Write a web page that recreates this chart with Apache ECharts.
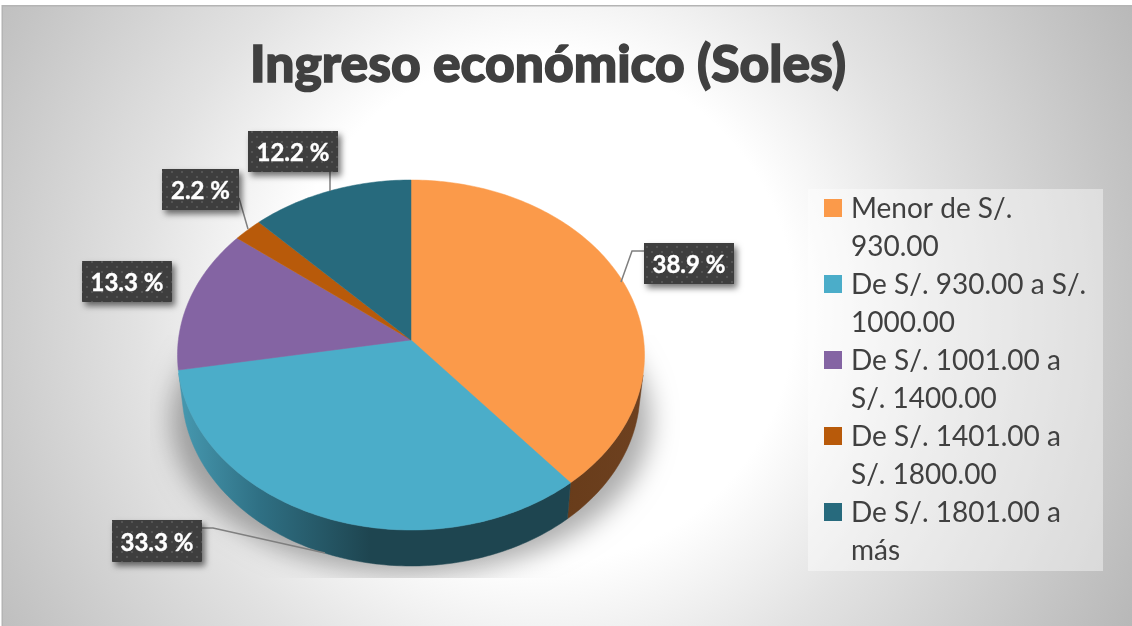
<!DOCTYPE html>
<html><head><meta charset="utf-8">
<style>html,body{margin:0;padding:0;background:#fff}#c{width:1132px;height:626px}</style>
<script src="https://cdn.jsdelivr.net/npm/echarts@6/dist/echarts.min.js"></script>
</head><body><div id="c"></div>
<script>
const titleText = 'Ingreso económico (Soles)';
const categories = ['Menor de S/.\n930.00','De S/. 930.00 a S/.\n1000.00','De S/. 1001.00 a\nS/. 1400.00','De S/. 1401.00 a\nS/. 1800.00','De S/. 1801.00 a\nmás'];
const values = [38.9,33.3,13.3,2.2,12.2];
const topColors = ['#FB9A4A','#4BADC9','#8464A3','#B85A0A','#276A7D'];
// label boxes [x,y,w,h] and leader polylines
const labelBoxes = [[644,243,90,41],[112,520,90,42],[82,261,90,41],[162,169,77,41],[248,131,90,41]];
const leaders = [[[644,251],[632,251],[621,282]],[[202,528],[213,528],[325,553]],null,[[239,198],[248,229]],[[330,172],[330,191]]];

const G = {cx:411, cy:355, rx:233.5, ry:175, c:0.086, depth:36, brx:229};
const total = values.reduce((a,b)=>a+b,0);
function bounds(i){
  let s=0; for(let k=0;k<i;k++) s+=values[k];
  return [s/total*360,(s+values[i])/total*360];
}
function proj(deg){ // perspective of a disc seen from above, 0 at 12 o'clock, clockwise
  const t=deg*Math.PI/180,u=Math.sin(t),v=-Math.cos(t),d=1-G.c*v;
  return [u*Math.sqrt(1-G.c*G.c)/d,(v-G.c)/d];
}
function arc(a,b){const p=[];const n=Math.max(2,Math.ceil(b-a));for(let j=0;j<=n;j++)p.push(proj(a+(b-a)*j/n));return p;}

const tile=document.createElement('canvas');tile.width=10;tile.height=10;
(function(){const x=tile.getContext('2d');x.fillStyle='#3e3e3e';x.fillRect(0,0,10,10);x.fillStyle='#5c5c5c';
 [[2,2],[7,7]].forEach(p=>{x.beginPath();x.arc(p[0],p[1],1,0,7);x.fill();});})();

const wallFill=[
 {type:'linear',x:560,y:0,x2:650,y2:0,global:true,colorStops:[{offset:0,color:'#683c1a'},{offset:1,color:'#6e4120'}]},
 {type:'linear',x:185,y:0,x2:370,y2:0,global:true,colorStops:[{offset:0,color:'#4596ad'},{offset:.4,color:'#2f7084'},{offset:1,color:'#1e4550'}]},
 '#5b4672','#6b3d1b','#1c4a58'];

const series=[];
series.push({type:'custom',name:'_shadow',coordinateSystem:'none',silent:true,z:1,data:[1],
 renderItem(){return {type:'ellipse',shape:{cx:G.cx-3000,cy:420,rx:G.rx+6,ry:154},
  style:{fill:'#000',shadowBlur:26,shadowColor:'rgba(0,0,0,0.32)',shadowOffsetX:3000},
  clipPath:{type:'rect',shape:{x:150-0,y:335,width:530,height:243}}};}});
series.push({type:'custom',name:'_walls',coordinateSystem:'none',silent:true,z:2,data:values,
 renderItem(params){
  const i=params.dataIndex,b=bounds(i);
  const pts=arc(b[0],b[1]).filter(p=>p[1]>0.1);
  if(pts.length<2) return {type:'group',children:[]};
  const up=pts.map(p=>[G.cx+G.rx*p[0],G.cy+G.ry*p[1]]);
  const lo=pts.map(p=>[G.cx+G.brx*p[0],G.cy+G.depth+G.ry*p[1]]).reverse();
  return {type:'polygon',shape:{points:up.concat(lo)},style:{fill:wallFill[i],stroke:wallFill[i],lineWidth:.5}};
 }});
categories.forEach((name,i)=>{
 series.push({type:'custom',name,coordinateSystem:'none',silent:true,z:3,itemStyle:{color:topColors[i]},data:[values[i]],
  renderItem(){
   const b=bounds(i);
   const pts=arc(b[0],b[1]).map(p=>[G.cx+G.rx*p[0],G.cy+G.ry*p[1]]);
   pts.unshift([G.cx,G.cy-G.c*G.ry]);
   return {type:'polygon',shape:{points:pts},style:{fill:topColors[i],stroke:topColors[i],lineWidth:.5}};
  }});
});
series.push({type:'custom',name:'_labels',coordinateSystem:'none',silent:true,z:5,data:values,
 renderItem(params,api){
  const i=params.dataIndex,r=labelBoxes[i],ch=[];
  if(leaders[i]) ch.push({type:'polyline',shape:{points:leaders[i]},style:{stroke:'#7f7f7f',lineWidth:1.5,fill:null}});
  ch.push({type:'rect',shape:{x:r[0],y:r[1],width:r[2],height:r[3]},
    style:{fill:{image:tile,repeat:'repeat'},shadowBlur:6,shadowOffsetX:3,shadowOffsetY:4,shadowColor:'rgba(0,0,0,0.55)'}});
  ch.push({type:'text',style:{text:api.value(0).toFixed(1)+' %',x:r[0]+r[2]/2,y:r[1]+r[3]/2+2,align:'center',verticalAlign:'middle',
    fill:'#fff',stroke:'#fff',lineWidth:.4,font:'bold 24px Lato'}});
  return {type:'group',children:ch};
 }});

const chart=echarts.init(document.getElementById('c'),null,{renderer:'canvas'});
chart.setOption({
 animation:false,
 title:{text:titleText,left:543,top:34,textAlign:'center',textStyle:{fontFamily:'Lato',fontWeight:900,fontSize:51.5,color:'#404040',textBorderColor:'#404040',textBorderWidth:1.5}},
 graphic:{elements:[
  {type:'rect',z:-3,silent:true,shape:{x:2,y:6,width:1130,height:620},style:{fill:{type:'radial',x:540,y:310,r:670,global:true,colorStops:[{offset:0,color:'#ffffff'},{offset:.38,color:'#ffffff'},{offset:.6,color:'#e2e2e2'},{offset:.88,color:'#c4c4c4'},{offset:1,color:'#b8b8b8'}]}}},
  {type:'rect',z:-2,silent:true,shape:{x:2,y:5,width:1130,height:1.5},style:{fill:'#b4b4b4'}},
  {type:'rect',z:-2,silent:true,shape:{x:1.5,y:5,width:1.5,height:621},style:{fill:'#b4b4b4'}},
  {type:'rect',z:-1,silent:true,shape:{x:808,y:189,width:295,height:382},style:{fill:'rgba(255,255,255,0.42)'}}
 ]},
 legend:{orient:'vertical',left:824,top:190,padding:0,itemGap:0,itemWidth:18,itemHeight:76,selectedMode:false,
  icon:'path://M0 9H18V27H0Z M0 0L0 0 M18 76L18 76',
  data:categories,textStyle:{fontFamily:'Lato',fontSize:28,lineHeight:38,color:'#404040',padding:[0,0,0,4]},itemStyle:{borderWidth:0}},
 series
});
</script></body></html>
